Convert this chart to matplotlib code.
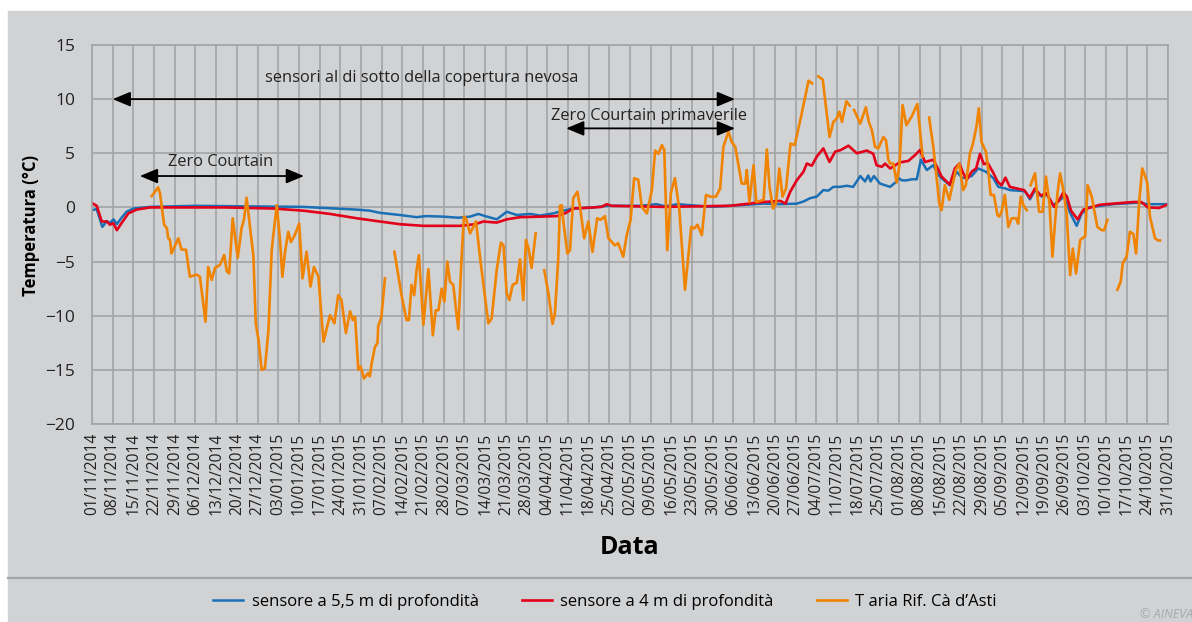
import numpy as np
import pandas as pd
import matplotlib
matplotlib.use("Agg")
import matplotlib.pyplot as plt
from matplotlib.patches import Rectangle
from matplotlib.lines import Line2D

# days since 01/11/2014
blue_days = [0, 1.6, 3.5, 5, 6, 7.3, 8.4, 10, 11.7, 14, 19.6, 35, 52, 71.5, 89.5, 94, 97.4, 104.2,
             109.8, 113, 118.8, 123.9, 127.9, 130.7, 133, 136.9, 140.3, 143.7, 148.2, 151.6, 156,
             159.4, 162.8, 169.6, 174.1, 185.4, 191, 194, 198, 210, 227, 232.8, 238.4, 240.7, 242.9,
             245.2, 247.4, 249.1, 250.8, 253.1, 255.3, 257.5, 259.9, 261.5, 262.6, 263.4, 264.5,
             266.6, 270, 271.8, 272.9, 274, 275.6, 277.3, 279, 280.4, 282.4, 284.6, 286.3, 287.4,
             290.2, 292.5, 294.5, 297.6, 299.8, 302.4, 304.9, 306.6, 309, 310.5, 315.6, 317.3, 319,
             321.3, 323, 325.2, 327.5, 328.8, 330.9, 333.1, 334.8, 337.1, 345.5, 354.5, 356.8, 364]
blue_vals = [-0.25, -0.15, -1.8, -1.25, -1.45, -1.1, -1.55, -0.95, -0.4, -0.1, 0.05, 0.15, 0.1,
             0.05, -0.2, -0.3, -0.5, -0.7, -0.9, -0.8, -0.85, -0.95, -0.85, -0.6, -0.8, -1.1, -0.4,
             -0.7, -0.6, -0.75, -0.55, -0.3, -0.1, 0.0, 0.15, 0.15, 0.3, 0.1, 0.3, 0.05, 0.35, 0.3,
             0.35, 0.55, 0.85, 1.0, 1.6, 1.55, 1.9, 1.9, 2.0, 1.9, 2.9, 2.4, 2.95, 2.4, 2.9, 2.2,
             1.9, 2.3, 2.7, 2.5, 2.5, 2.6, 2.6, 4.4, 3.45, 3.9, 3.0, 2.7, 2.05, 3.3, 2.7, 2.9, 3.6,
             3.3, 2.7, 1.9, 1.75, 1.6, 1.5, 0.75, 1.6, 1.0, 1.2, 0.2, 0.7, 1.0, -0.5, -1.7, -0.55,
             0.0, 0.3, 0.45, 0.3, 0.3]

red_days = [0, 1.6, 3.3, 5, 6.1, 7.2, 8.4, 10, 12.3, 15.1, 19.6, 45, 61.3, 71.5, 80.5, 89.5, 97.4,
            104.2, 112, 124.5, 129.6, 132.4, 136.9, 140.3, 144.8, 151.6, 157.2, 160, 162.8, 169.6,
            172.4, 174.1, 175.8, 193.3, 215.8, 227.1, 232.9, 234.6, 236.2, 238.4, 240.7, 241.8,
            243.5, 245.2, 247.4, 249.5, 251.4, 253.3, 255.9, 258.7, 262.1, 264.3, 265.4, 267.2,
            268.3, 270, 273.2, 276.2, 278.5, 280.1, 281.8, 284.6, 286.3, 287.4, 290.2, 291.9,
            293.4, 294.5, 295.9, 297.6, 299.1, 300.4, 301.7, 303, 304.8, 306.3, 307.7, 309, 310.5,
            315.3, 317.3, 319, 320.9, 322.9, 325.5, 327.2, 328.6, 329.8, 331.2, 333.4, 335.4, 341,
            352.3, 355, 357.2, 361, 364]
red_vals = [0.4, 0.15, -1.3, -1.3, -1.6, -1.45, -2.1, -1.45, -0.55, -0.2, 0.0, 0.0, -0.1, -0.3,
            -0.6, -1.0, -1.3, -1.55, -1.7, -1.7, -1.55, -1.3, -1.4, -1.1, -0.9, -0.85, -0.8, -0.55,
            -0.1, 0.0, 0.05, 0.3, 0.15, 0.05, 0.15, 0.5, 0.6, 0.35, 1.45, 2.5, 3.3, 4.05, 3.85, 4.7,
            5.45, 4.2, 5.15, 5.3, 5.7, 5.0, 5.25, 4.95, 3.9, 3.75, 4.05, 3.6, 4.15, 4.3, 4.85, 5.3,
            4.2, 4.4, 3.5, 2.85, 2.1, 3.6, 4.05, 3.3, 2.55, 3.3, 3.6, 4.95, 4.0, 4.1, 3.25, 2.4,
            2.05, 2.75, 1.9, 1.6, 0.9, 1.75, 1.1, 1.3, 0.05, 0.7, 1.4, 1.0, -0.3, -1.1, -0.2, 0.25,
            0.5, 0.5, 0.0, -0.05, 0.3]

nan = np.nan
orange_days = [20.2, 22.4, 23, 24.4, 25.3, 25.8, 26.4, 26.9, 29.2, 30.3, 31.8, 33.1, 35.4, 36.5,
               38.4, 39.3, 40.5, 41.6, 43.3, 44.7, 45.6, 46.4, 47.6, 49.3, 50.6, 51.4, 52.3, 54.6,
               55.4, 56.3, 57.4, 58.5, 59.7, 60.8, 62.5, 63.6, 64.4, 65.3, 66.4, 67.3, 68.6, 70.1,
               71.2, 72.6, 73.9, 75.1, 76.6, 78.3, 80.5, 82, 83.3, 84.4, 85.9, 87.3, 88.2, 89, 90.1,
               90.9, 92, 93.4, 94, 94.6, 95.7, 96.6, 96.8, 97.9, 99.1, nan,
               102.3, 104.8, 106.4, 107.2, 108.1, 109, 109.8, 110.6, 112.1, 113.8, 115.3, 116.3,
               117.2, 118.3, 119.2, 120.2, 121.1, 122.2, 123.9, 125.1, 125.8, 126.5, 127.9, 129.9,
               131.5, 133, 134.1, 135.2, 136.9, 138.3, 139.2, 140.3, 141.2, 142.3, 143.7, 144.8,
               145.9, 146.8, 147.7, 148.7, 150.1, nan,
               153, 154.4, 155.8, 156.6, 157.7, 158.3, 158.9, 159.4, 160.8, 161.7, 162.8, 164.2,
               165.1, 166.5, 167.9, 169.3, 170.9, 172.1, 173.5, 174.7, 176.9, 178, 179.7, 180.9,
               182.2, 183.4, 184.8, 186, 187.7, 189.4, 190.5, 191.6, 192.8, 193.6, 194.6, 195.8,
               197.2, 198.7, 200.6, 202.7, 203.7, 204.8, 206.3, 207.7, 209.1, 211.1, 212.5, 213.6,
               215.3, 216.4, 217.6, 219.8, 221, 221.5, 222.4, 223.8, 224.7, 227.2, 228.3, 229.2,
               230.4, 231.4, 232.5, 233.6, 234.8, 236.3, 237.7, 239.6, 242.4, 243.6, nan,
               245.7, 247.2, 249.5, 250.8, 251.9, 252.8, 253.7, 255.2, 256.3, nan,
               257.8, 259.9, 261.8, 262.8, 263.8, 264.9, 266, 267.7, 268.6, 269.4, 270, 271.1,
               272.2, 273.2, 274.2, 275.5, 277.3, 279.2, 280.1, 281, nan,
               283.2, 284.6, 285.7, 286.6, 287.4, 288.5, 290, 291.3, 292.2, 293.4, 294.7, 295.6,
               297, 297.9, 299.2, 300, 300.9, 302.4, 303.2, 304, 305.1, 306.3, 306.9, 307.7, 308.8,
               310, 311.1, 312.6, 313.3, 314.2, 315.1, 316.2, nan,
               317.5, 319, 320.4, 321.6, 322.7, 323.9, 324.9, 325.8, 326.6, 327.5, 328.6, 329.7,
               330.9, 331.8, 332.9, 334.3, 336, 336.8, 337.4, 338.2, 340.1, 341.6, 342.4, 343.5, nan,
               346.9, 348, 348.7, 350, 351.1, 352.3, 353.2, 354.3, 355.3, 356.5, 357, 357.9, 358.8,
               359.6, 360.7, 361.3]
orange_vals = [1.05, 1.85, 1.3, -1.6, -1.9, -2.85, -3.0, -4.25, -2.85, -3.9, -3.9, -6.4, -6.2,
               -6.4, -10.55, -5.5, -6.7, -5.6, -5.3, -4.4, -5.9, -6.1, -1.0, -4.65, -1.9, -1.15,
               0.9, -4.5, -10.7, -12.2, -15.0, -14.85, -11.3, -3.9, 0.2, -3.0, -6.4, -4.1, -2.25,
               -3.2, -2.55, -1.5, -6.55, -4.1, -7.3, -5.5, -6.4, -12.4, -9.95, -10.7, -8.1, -8.55,
               -11.6, -9.6, -10.4, -10.1, -15.0, -14.7, -15.8, -15.3, -15.6, -14.4, -12.9, -12.5,
               -11.0, -10.1, -6.55, nan,
               -4.1, -8.25, -10.4, -10.4, -7.15, -8.1, -5.8, -4.4, -10.85, -5.7, -11.8, -9.5, -9.5,
               -7.5, -8.7, -5.0, -6.85, -7.15, -11.25, -4.25, -0.85, -1.0, -2.4, -1.3, -5.15, -8.4,
               -10.7, -10.25, -5.8, -3.25, -3.5, -7.95, -8.55, -7.15, -6.95, -4.8, -8.55, -3.0,
               -3.8, -5.6, -2.4, nan,
               -5.8, -7.95, -10.75, -9.8, -4.9, 0.15, 0.2, -1.15, -4.25, -3.95, 0.85, 1.45, 0.05,
               -2.85, -1.3, -4.1, -1.0, -1.15, -0.8, -2.85, -3.5, -3.3, -4.55, -2.55, -1.15, 2.7,
               2.55, 0.05, -0.55, 1.6, 5.25, 4.95, 5.75, 5.3, -3.95, 1.3, 2.7, -0.25, -7.6, -1.8,
               -1.95, -1.6, -2.55, 1.15, 1.0, 1.0, 1.75, 5.6, 7.0, 6.05, 5.6, 2.2, 2.2, 3.45, 0.5,
               3.9, 0.5, 0.7, 5.35, 1.9, -0.1, 0.4, 3.6, 1.0, 1.75, 5.9, 5.75, 8.05, 11.7, 11.45, nan,
               12.1, 11.8, 6.5, 7.9, 8.2, 8.85, 7.9, 9.8, 9.4, nan,
               9.0, 7.75, 9.25, 7.9, 7.15, 5.6, 5.45, 6.5, 6.2, 4.4, 4.05, 4.05, 2.3, 4.0, 9.45,
               7.6, 8.4, 9.55, 7.15, 4.7, nan,
               8.3, 5.6, 2.85, 0.4, -0.25, 2.05, 0.7, 2.35, 3.45, 4.05, 1.6, 2.05, 5.0, 5.75, 7.45,
               9.15, 6.05, 5.15, 3.45, 1.15, 1.15, -0.7, -0.85, -0.4, 1.15, -1.8, -1.0, -1.0, -1.5,
               1.0, 0.2, -0.25, nan,
               2.05, 3.15, -0.4, -0.4, 2.85, 0.4, -4.55, -1.3, 1.3, 3.15, 1.6, -0.55, -6.25, -3.8,
               -6.1, -3.0, -2.65, 2.05, 1.6, 1.0, -1.8, -2.1, -2.1, -1.15, nan,
               -7.6, -6.85, -5.15, -4.55, -2.25, -2.45, -4.25, 0.7, 3.6, 2.7, 2.2, -0.85, -1.9,
               -2.85, -3.05, -3.05]

week_dates = pd.date_range("2014-11-01", "2015-10-31", freq="7D")
tick_labels = [d.strftime("%d/%m/%Y") for d in week_dates]
tick_days = [(d - week_dates[0]).days for d in week_dates]

series_names = ["sensore a 5,5 m di profondità", "sensore a 4 m di profondità",
                "T aria Rif. Cà d\u2019Asti"]
colors = ["#1a6fb5", "#e2001a", "#f08300"]

plt.rcParams["font.family"] = ["Open Sans", "DejaVu Sans"]
bg = "#d1d2d4"
gridc = "#a3a4a6"

fig = plt.figure(figsize=(11.92, 6.22), dpi=100)
fig.patch.set_facecolor("white")
fig.add_artist(Rectangle((8 / 1192, 0), 1, 1 - 11 / 622, transform=fig.transFigure,
                         color=bg, zorder=-10))
fig.add_artist(Line2D([8 / 1192, 1], [1 - 578 / 622] * 2, color="#a5a6a8", lw=1.6))

ax = fig.add_axes([92 / 1192, 1 - 424 / 622, 1076 / 1192, 379 / 622])
ax.set_facecolor(bg)

ax.plot(blue_days, blue_vals, color=colors[0], lw=1.8, label=series_names[0])
ax.plot(red_days, red_vals, color=colors[1], lw=1.9, label=series_names[1])
ax.plot(orange_days, orange_vals, color=colors[2], lw=1.9, label=series_names[2])

ax.set_xlim(0, 364)
ax.set_ylim(-20, 15)
ax.set_yticks(range(-20, 16, 5))
ax.set_xticks(tick_days)
ax.set_xticklabels(tick_labels, rotation=90, fontsize=11.2, color="#222222")
ax.tick_params(axis="y", labelsize=12.5, labelcolor="#222222", length=0, pad=12)
ax.tick_params(axis="x", length=0, pad=6)
ax.grid(True, color=gridc, lw=1.2)
ax.set_axisbelow(True)
for s in ax.spines.values():
    s.set_color(gridc)
    s.set_linewidth(1.2)

ax.set_ylabel("Temperatura (°C)", fontsize=12, fontweight="bold")
ax.yaxis.set_label_coords(-0.048, 0.525)
fig.text(630 / 1192, 1 - 548 / 622, "Data", fontsize=18, fontweight="bold",
         ha="center", va="center")

arrow = dict(arrowstyle="<|-|>,head_length=0.6,head_width=0.25", color="black", lw=1.3,
             mutation_scale=18, shrinkA=0, shrinkB=0)
ax.annotate("", xy=(7, 10), xytext=(217.5, 10), arrowprops=arrow)
ax.text(111.6, 11.95, "sensori al di sotto della copertura nevosa", fontsize=11.8,
        ha="center", va="center", color="#222222")
ax.annotate("", xy=(16.2, 2.9), xytext=(71.7, 2.9), arrowprops=arrow)
ax.text(43.6, 4.2, "Zero Courtain", fontsize=11.8, ha="center", va="center", color="#222222")
ax.annotate("", xy=(160.4, 7.3), xytext=(217.5, 7.3), arrowprops=arrow)
ax.text(188.4, 8.45, "Zero Courtain primaverile", fontsize=11.8, ha="center", va="center",
        color="#222222")

fig.legend(loc="center", bbox_to_anchor=(605 / 1192, 1 - 602 / 622), ncol=3, frameon=False,
           fontsize=12, handlelength=1.8, handletextpad=0.5, columnspacing=2.6)
fig.text(1140 / 1192, 0.002, "© AINEVA", fontsize=9, style="italic", color="#a8a9ab",
         ha="left", va="bottom")

fig.savefig("out.png", dpi=100, facecolor=fig.get_facecolor())
